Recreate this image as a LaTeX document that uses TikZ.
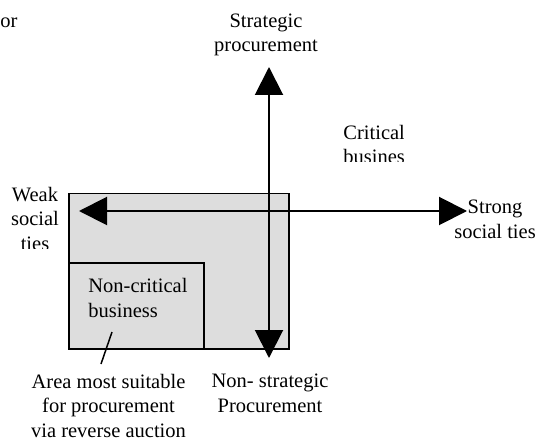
\documentclass[tikz,border=0pt]{standalone}
\usepackage{fontspec}
\setmainfont{Liberation Serif}
\usetikzlibrary{arrows.meta}
\definecolor{boxgray}{RGB}{221,221,221}
\begin{document}
\begin{tikzpicture}[x=0.5pt,y=-0.5pt,
  lbl/.style={inner sep=0pt, font=\fontsize{10.25}{12.25}\selectfont, align=center, anchor=base},
  lblleft/.style={lbl, align=left, anchor=base west},
  box/.style={draw=black, line width=0.75pt, fill=boxgray, inner sep=0pt, anchor=north west},
  axis/.style={line width=1pt, {Triangle[length=14pt,width=14pt]}-{Triangle[length=14pt,width=14pt]}},
  pointer/.style={line width=0.75pt},
]
\useasboundingbox (0,0) rectangle (540,438);
% boxes
\node (big) [box, minimum width=110pt, minimum height=77.5pt] at (68,193) {};
\node (small) [box, minimum width=67.5pt, minimum height=43pt] at (68,262) {};
% axes
\coordinate (vtop) at (269,67);
\coordinate (vbot) at (269,358);
\coordinate (hleft) at (79,211);
\coordinate (hright) at (467,211);
\draw[axis] (vtop) -- (vbot);
\draw[axis] (hleft) -- (hright);
% texts (base anchor = baseline of the last line)
\node (or) [lblleft] at (0,28) {or};
\node (strat) [lbl] at (266,52) {Strategic\\procurement};
\begin{scope}
  \clip (330,100) rectangle (403,162);
  \node (crit) [lblleft] at (343,164) {Critical\\business};
\end{scope}
\begin{scope}
  \clip (0,180) rectangle (67,248);
  \node (weak) [lbl] at (35,250) {Weak\\social\\ties};
\end{scope}
\node (strong) [lbl] at (495,238) {Strong\\social ties};
\node (noncrit) [lblleft] at (88,317) {Non-critical\\business};
\node (area) [lbl] at (108.5,437) {Area most suitable\\for procurement\\via reverse auction};
\node (nonstrat) [lbl] at (270,412) {Non- strategic\\Procurement};
% pointer
\coordinate (ptop) at (112,332);
\coordinate (pbot) at (101,364);
\draw[pointer] (ptop) -- (pbot);
\end{tikzpicture}
\end{document}
